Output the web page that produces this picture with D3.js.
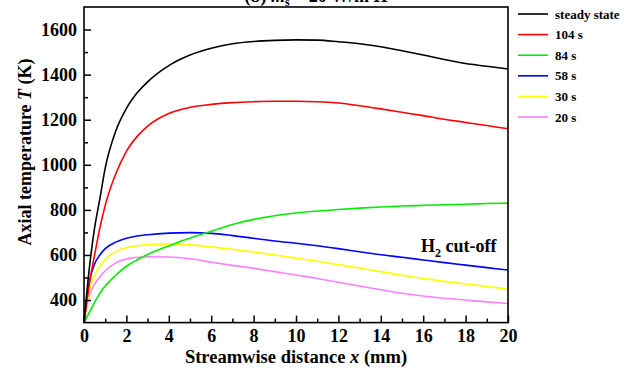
<!DOCTYPE html>
<html>
<head>
<meta charset="utf-8">
<script src="https://cdn.jsdelivr.net/npm/d3@7"></script>
<style>
body { margin: 0; background: #fff; }
text { font-family: "Liberation Serif", "Times New Roman", serif; font-weight: bold; }
</style>
</head>
<body>
<div id="container"></div>
<script>

// streamwise positions (mm) shared by every curve
var XS = [0, 0.25, 0.5, 0.75, 1, 1.5, 2, 2.5, 3, 4, 5, 6, 7, 8, 9, 10,
	  11, 12, 13, 14, 15, 16, 17, 18, 19, 20];

var T_STEADY = [300, 540, 720, 850, 985, 1150, 1250, 1318, 1368, 1440, 1487, 1517, 1537, 1547, 1552, 1554,
		1553, 1546, 1537, 1524, 1506, 1487, 1467, 1449, 1437, 1425];
var T_104 = [300, 470, 600, 720, 820, 960, 1060, 1125, 1172, 1228, 1255, 1268, 1276, 1280, 1282, 1282,
	     1280, 1274, 1262, 1248, 1233, 1218, 1202, 1188, 1174, 1160];
var T_84 = [300, 345, 390, 431, 462, 510, 550, 578, 602, 640, 675, 705, 735, 758, 774, 786,
	    795, 802, 808, 813, 817, 820, 823, 825, 828, 830];
var T_58 = [300, 480, 560, 600, 628, 657, 674, 684, 690, 697, 699, 696, 686, 674, 662, 652,
	    641, 628, 614, 601, 590, 578, 566, 555, 544, 533];
var T_30 = [300, 440, 510, 550, 580, 615, 632, 641, 646, 648, 645, 636, 625, 613, 600, 586,
	    572, 557, 542, 526, 510, 496, 483, 471, 460, 449];
var T_20 = [300, 420, 470, 503, 530, 565, 582, 589, 592, 591, 583, 568, 554, 541, 526, 511,
	    496, 479, 462, 446, 430, 418, 408, 400, 392, 385];

var LABELS = ["steady state", "104 s", "84 s", "58 s", "30 s", "20 s"];
var COLORS = ["#000000", "#ff0000", "#00ee00", "#0000ff", "#ffff00", "#ff80ff"];
var SERIES = [T_STEADY, T_104, T_84, T_58, T_30, T_20];

var X_TICKS = [0, 2, 4, 6, 8, 10, 12, 14, 16, 18, 20];
var Y_TICKS = [400, 600, 800, 1000, 1200, 1400, 1600];

var WIDTH = 624, HEIGHT = 371;
var LEFT = 84, RIGHT = 508, TOP = 7, BOTTOM = 322.6;

var svg = d3.select("#container").append("svg")
    .attr("width", WIDTH)
    .attr("height", HEIGHT);

var x = d3.scaleLinear().domain([0, 20]).range([LEFT, RIGHT]);
var y = d3.scaleLinear().domain([300, 1700]).range([BOTTOM, TOP]);

// clipped title at the very top
var title = svg.append("text")
    .attr("x", 316)
    .attr("y", 2)
    .attr("text-anchor", "middle")
    .style("font-size", "18px");
title.append("tspan").text("(b) ");
title.append("tspan").style("font-style", "italic").text("ṁ");
title.append("tspan").attr("dy", 4).style("font-size", "12px").text("s");
title.append("tspan").attr("dy", -4).text(" = 20 W/m");
title.append("tspan").text(" H");

var line = d3.line()
    .x(function(d, i){ return x(XS[i]); })
    .y(function(d){ return y(d); })
    .curve(d3.curveMonotoneX);

var plot = svg.append("g");

plot.selectAll("path.curve")
    .data(SERIES.slice().reverse())
    .enter()
    .append("path")
    .classed("curve", true)
    .attr("d", line)
    .attr("fill", "none")
    .attr("stroke-width", 1.6)
    .attr("stroke", function(d, i){ return COLORS[SERIES.length - 1 - i]; });

// axes with inward ticks
var xAxis = svg.append("g")
    .attr("transform", "translate(0," + BOTTOM + ")")
    .call(d3.axisBottom(x).tickValues(X_TICKS).tickSize(-7).tickPadding(7).tickFormat(d3.format("d")));
var xMinor = svg.append("g")
    .attr("transform", "translate(0," + BOTTOM + ")")
    .call(d3.axisBottom(x).tickValues(d3.range(1, 20, 2)).tickSize(-4).tickFormat(""));

var yAxis = svg.append("g")
    .attr("transform", "translate(" + LEFT + ",0)")
    .call(d3.axisLeft(y).tickValues(Y_TICKS).tickSize(-7).tickPadding(7).tickFormat(d3.format("d")));
var yMinor = svg.append("g")
    .attr("transform", "translate(" + LEFT + ",0)")
    .call(d3.axisLeft(y).tickValues(d3.range(300, 1700, 200).slice(1)).tickSize(-4).tickFormat(""));

[xAxis, xMinor, yAxis, yMinor].forEach(function(a){
    a.attr("font-family", null);
    a.select(".domain").remove();
    a.selectAll(".tick line").attr("stroke", "#000").attr("stroke-width", 1.5);
    a.selectAll("text").style("font-size", "18px").attr("fill", "#000");
});

svg.append("rect")
    .attr("x", LEFT)
    .attr("y", TOP)
    .attr("width", RIGHT - LEFT)
    .attr("height", BOTTOM - TOP)
    .attr("fill", "none")
    .attr("stroke", "#000")
    .attr("stroke-width", 1.6);

// axis titles
var xt = svg.append("text")
    .attr("x", 296)
    .attr("y", 363)
    .attr("text-anchor", "middle")
    .style("font-size", "18.5px");
xt.append("tspan").text("Streamwise distance ");
xt.append("tspan").style("font-style", "italic").text("x");
xt.append("tspan").text(" (mm)");

var yt = svg.append("text")
    .attr("transform", "translate(31,152) rotate(-90)")
    .attr("text-anchor", "middle")
    .style("font-size", "18px");
yt.append("tspan").text("Axial temperature ");
yt.append("tspan").style("font-style", "italic").text("T");
yt.append("tspan").text(" (K)");

// annotation
var ann = svg.append("text")
    .attr("x", 421)
    .attr("y", 252)
    .style("font-size", "18px");
ann.append("tspan").text("H");
ann.append("tspan").attr("dy", 5).style("font-size", "12px").text("2");
ann.append("tspan").attr("dy", -5).text(" cut-off");

// legend
var leg = svg.append("g").selectAll("g.leg")
    .data(LABELS)
    .enter()
    .append("g")
    .classed("leg", true)
    .attr("transform", function(d, i){ return "translate(518," + (14 + i * 20.6) + ")"; });

leg.append("line")
    .attr("x1", 0).attr("x2", 30)
    .attr("stroke-width", 1.6)
    .attr("stroke", function(d, i){ return COLORS[i]; });

leg.append("text")
    .attr("x", 37)
    .attr("y", 4.5)
    .style("font-size", "13px")
    .text(function(d){ return d; });

</script>
</body>
</html>
